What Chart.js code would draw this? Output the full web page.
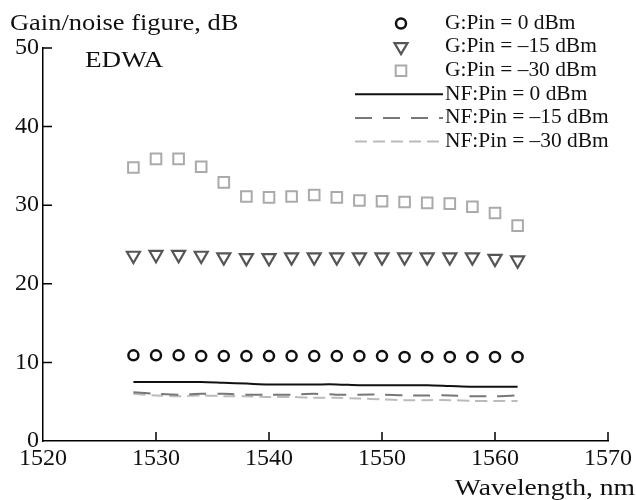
<!DOCTYPE html>
<html lang="en">
<head>
  <meta charset="UTF-8">
  <title>EDWA gain / noise figure</title>
  <script src="https://cdn.jsdelivr.net/npm/chart.js@4.4.1/dist/chart.umd.min.js"></script>
  <style>
    body { margin: 0; background: #fff; }
  </style>
</head>
<body>
  <canvas id="chart" width="636" height="500"></canvas>
  <script>
    // wavelengths, nm
    const wavelength = [1528, 1530, 1532, 1534, 1536, 1538, 1540, 1542, 1544, 1546, 1548, 1550, 1552, 1554, 1556, 1558, 1560, 1562];
    // gain, dB
    const gain0 = [10.9, 10.9, 10.9, 10.8, 10.8, 10.8, 10.8, 10.8, 10.8, 10.8, 10.8, 10.8, 10.7, 10.7, 10.7, 10.7, 10.7, 10.7];
    const gain15 = [23.6, 23.7, 23.7, 23.6, 23.4, 23.3, 23.3, 23.4, 23.4, 23.4, 23.4, 23.4, 23.4, 23.4, 23.4, 23.4, 23.2, 23.0];
    const gain30 = [34.8, 35.9, 35.9, 34.9, 32.9, 31.1, 31.0, 31.1, 31.3, 31.0, 30.6, 30.5, 30.4, 30.3, 30.2, 29.8, 29.0, 27.4];
    // noise figure, dB
    const nf0 = [7.5, 7.5, 7.5, 7.5, 7.4, 7.3, 7.2, 7.2, 7.2, 7.2, 7.1, 7.1, 7.1, 7.1, 7.0, 6.9, 6.9, 6.9];
    const nf15 = [6.2, 6.0, 5.9, 6.0, 6.0, 5.9, 5.9, 5.9, 6.0, 5.9, 5.9, 5.9, 5.8, 5.8, 5.8, 5.7, 5.7, 5.8];
    const nf30 = [6.0, 5.8, 5.7, 5.8, 5.7, 5.7, 5.6, 5.6, 5.5, 5.5, 5.4, 5.3, 5.2, 5.2, 5.2, 5.1, 5.1, 5.1];

    const xTicks = [1520, 1530, 1540, 1550, 1560, 1570];
    const yTicks = [0, 10, 20, 30, 40, 50];

    const labels = ['G:Pin = 0 dBm', 'G:Pin = \u201315 dBm', 'G:Pin = \u201330 dBm',
      'NF:Pin = 0 dBm', 'NF:Pin = \u201315 dBm', 'NF:Pin = \u201330 dBm'];

    const serif = "'Liberation Serif'";

    const pts = (ys) => wavelength.map((x, i) => ({ x: x, y: ys[i] }));

    // stretched text, the source figure uses a wide serif
    function wideText(ctx, txt, x, y, sx, align) {
      ctx.save();
      ctx.translate(x, y);
      ctx.scale(sx, 1);
      ctx.textAlign = align || 'left';
      ctx.fillText(txt, 0, 0);
      ctx.restore();
    }

    // inward tick marks + texts + legend
    const decor = {
      id: 'decor',
      afterDraw(chart) {
        const ctx = chart.ctx;
        const xs = chart.scales.x, ys = chart.scales.y;
        const area = chart.chartArea;
        ctx.save();
        ctx.strokeStyle = '#000';
        ctx.lineWidth = 1.5;
        ctx.beginPath();
        xTicks.forEach(v => {
          if (v === xTicks[0]) return;
          const px = xs.getPixelForValue(v);
          ctx.moveTo(px, area.bottom);
          ctx.lineTo(px, area.bottom - 9);
        });
        yTicks.forEach(v => {
          if (v === yTicks[0]) return;
          const py = ys.getPixelForValue(v);
          ctx.moveTo(area.left, py);
          ctx.lineTo(area.left + 9, py);
        });
        ctx.stroke();

        // texts
        ctx.fillStyle = '#111';
        ctx.textBaseline = 'alphabetic';
        ctx.font = '23px ' + serif;
        wideText(ctx, 'Gain/noise figure, dB', 10, 30, 1.15);
        wideText(ctx, 'EDWA', 85, 67, 1.18);
        wideText(ctx, 'Wavelength, nm', 635, 495, 1.2, 'right');

        // legend
        ctx.font = '20px ' + serif;
        ctx.textBaseline = 'middle';
        chart.data.datasets.forEach((ds, i) => {
          const y = 23.5 + i * 23.6;
          ctx.fillStyle = '#111';
          wideText(ctx, ds.label, 445, y, 1.07);
          ctx.strokeStyle = ds.borderColor;
          ctx.lineWidth = ds.borderWidth;
          if (ds.showLine) {
            ctx.setLineDash(ds.borderDash || []);
            ctx.beginPath();
            ctx.moveTo(355, y);
            ctx.lineTo(443, y);
            ctx.stroke();
            ctx.setLineDash([]);
          } else {
            ctx.beginPath();
            const cx = 401;
            if (ds.pointStyle === 'circle') {
              ctx.arc(cx, y, 5, 0, Math.PI * 2);
            } else if (ds.pointStyle === 'triangle') {
              ctx.moveTo(cx - 6.5, y - 4);
              ctx.lineTo(cx + 6.5, y - 4);
              ctx.lineTo(cx, y + 7);
              ctx.closePath();
            } else {
              ctx.rect(cx - 5.3, y - 5.3, 10.6, 10.6);
            }
            ctx.stroke();
          }
        });
        ctx.restore();
      }
    };

    function draw() {
      new Chart(document.getElementById('chart'), {
        type: 'scatter',
        data: {
          datasets: [
            { label: labels[0], data: pts(gain0), pointStyle: 'circle', pointRadius: 5, borderColor: '#111', backgroundColor: 'transparent', borderWidth: 2.5, showLine: false },
            { label: labels[1], data: pts(gain15), pointStyle: 'triangle', rotation: 180, pointRadius: 7.5, borderColor: '#555', backgroundColor: 'transparent', borderWidth: 2.2, showLine: false },
            { label: labels[2], data: pts(gain30), pointStyle: 'rect', pointRadius: 7.5, borderColor: '#aaa', backgroundColor: 'transparent', borderWidth: 2, showLine: false },
            { label: labels[3], data: pts(nf0), showLine: true, pointRadius: 0, borderColor: '#111', borderWidth: 2, tension: 0.3 },
            { label: labels[4], data: pts(nf15), showLine: true, pointRadius: 0, borderColor: '#777', borderWidth: 2, borderDash: [17, 11], tension: 0.3 },
            { label: labels[5], data: pts(nf30), showLine: true, pointRadius: 0, borderColor: '#bbb', borderWidth: 2, borderDash: [12, 6], tension: 0.3 }
          ]
        },
        options: {
          responsive: false,
          animation: false,
          layout: { padding: { top: 48, right: 28, left: 0, bottom: 0 } },
          plugins: { legend: { display: false }, tooltip: { enabled: false } },
          scales: {
            x: {
              type: 'linear', min: 1520, max: 1570,
              afterFit: (s) => { s.height = 59; },
              afterBuildTicks: (s) => { s.ticks = xTicks.map(v => ({ value: v })); },
              grid: { drawOnChartArea: false, drawTicks: false },
              border: { display: true, color: '#000', width: 1.5 },
              ticks: { padding: 3, color: '#111', font: { family: serif, size: 24 }, callback: (v) => String(v) }
            },
            y: {
              min: 0, max: 50,
              afterFit: (s) => { s.width = 43; },
              afterBuildTicks: (s) => { s.ticks = yTicks.map(v => ({ value: v })); },
              grid: { drawOnChartArea: false, drawTicks: false },
              border: { display: true, color: '#000', width: 1.5 },
              ticks: { padding: 4, color: '#111', font: { family: serif, size: 24 }, callback: (v) => String(v) }
            }
          }
        },
        plugins: [decor]
      });
    }

    document.fonts.load("24px 'Liberation Serif'").then(draw, draw);
  </script>
</body>
</html>
